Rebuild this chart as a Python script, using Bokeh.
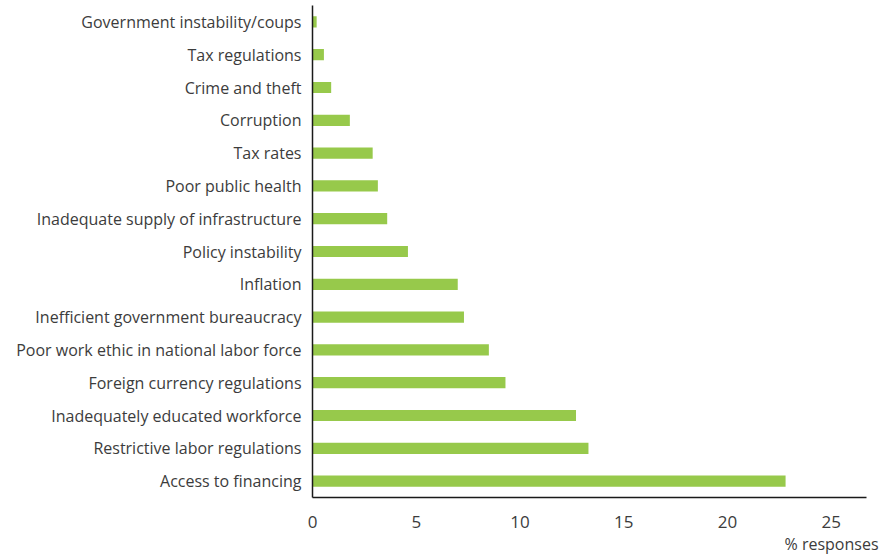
from bokeh.plotting import figure
from bokeh.models import FactorRange, Range1d, FixedTicker, Title
from bokeh.embed import file_html
from bokeh.resources import INLINE

categories = [
    "Government instability/coups",
    "Tax regulations",
    "Crime and theft",
    "Corruption",
    "Tax rates",
    "Poor public health",
    "Inadequate supply of infrastructure",
    "Policy instability",
    "Inflation",
    "Inefficient government bureaucracy",
    "Poor work ethic in national labor force",
    "Foreign currency regulations",
    "Inadequately educated workforce",
    "Restrictive labor regulations",
    "Access to financing",
]
values = [0.2, 0.55, 0.9, 1.8, 2.9, 3.15, 3.6, 4.6, 7.0, 7.3, 8.5, 9.3, 12.7, 13.3, 22.8]
x_ticks = [0, 5, 10, 15, 20, 25]

FONT = "Open Sans"
TEXT = "#3c3c3c"

p = figure(
    width=881, height=554,
    y_range=FactorRange(factors=list(reversed(categories)), range_padding=0),
    x_range=Range1d(0, 26.7),
    output_backend="svg", toolbar_location=None,
    min_border_left=312, min_border_right=15, min_border_top=5, min_border_bottom=0,
)
p.hbar(y=categories, right=values, left=0, height=0.34, color="#97c94b", line_color=None)

p.xgrid.visible = False
p.ygrid.visible = False
p.outline_line_color = None

for ax in (p.xaxis[0], p.yaxis[0]):
    ax.axis_line_color = "#1a1a1a"
    ax.axis_line_width = 1.5
    ax.major_tick_line_color = None
    ax.minor_tick_line_color = None
    ax.major_label_text_font = FONT
    ax.major_label_text_color = TEXT

p.xaxis.ticker = FixedTicker(ticks=x_ticks)
p.xaxis.major_label_text_font_size = "17px"
p.xaxis.major_label_standoff = 12
p.yaxis.major_label_text_font_size = "16px"
p.yaxis.major_label_standoff = 5

p.add_layout(Title(text="% responses", align="right", text_font=FONT,
                   text_font_size="16px", text_font_style="normal",
                   text_color=TEXT, standoff=0, offset=-12), "below")

open("out.html", "w").write(file_html(p, INLINE))
